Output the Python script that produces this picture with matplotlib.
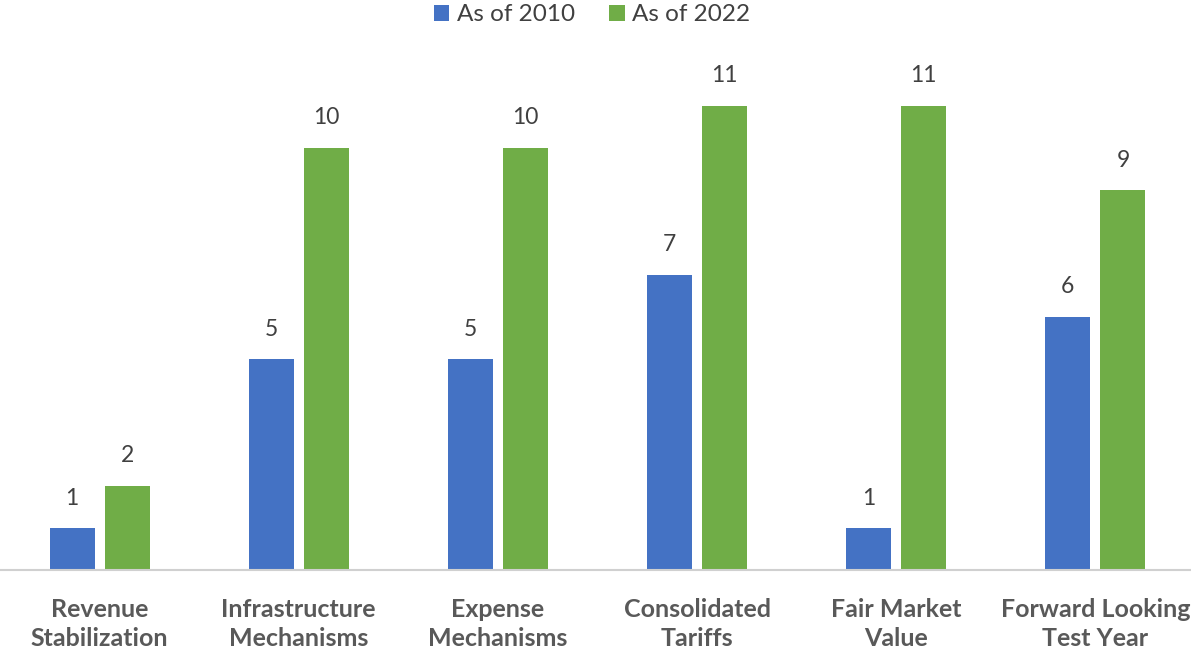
import matplotlib.pyplot as plt
import numpy as np

plt.rcParams['font.family'] = ['Lato', 'DejaVu Sans']

categories = ['Revenue\nStabilization', 'Infrastructure\nMechanisms', 'Expense\nMechanisms',
              'Consolidated\nTariffs', 'Fair Market\nValue', 'Forward Looking\nTest Year']
as_of_2010 = [1, 5, 5, 7, 1, 6]
as_of_2022 = [2, 10, 10, 11, 11, 9]

blue = '#4472C4'
green = '#70AD47'


def draw():
    fig = plt.figure(figsize=(11.91, 6.51), dpi=100)
    ax = fig.add_axes([0, 0.124, 1, 0.876])
    x = np.arange(len(categories))
    w = 0.226
    off = 0.138
    b1 = ax.bar(x - off, as_of_2010, w, color=blue, label='As of 2010')
    b2 = ax.bar(x + off, as_of_2022, w, color=green, label='As of 2022')
    for bars in (b1, b2):
        ax.bar_label(bars, padding=14, fontsize=16.5, color='#404040')

    ax.set_xlim(-0.5, 5.48)
    ax.set_ylim(0, 13.5)
    ax.set_xticks(x)
    ax.set_xticklabels(categories, fontsize=18, fontweight='bold', color='#595959',
                       linespacing=1.3)
    ax.tick_params(axis='x', length=0, pad=20)
    ax.set_yticks([])
    for s in ['top', 'right', 'left']:
        ax.spines[s].set_visible(False)
    ax.spines['bottom'].set_color('#d0d0d0')
    ax.spines['bottom'].set_linewidth(1.5)

    fig.legend(loc='upper center', bbox_to_anchor=(0.497, 1.027), ncol=2, frameon=False,
               fontsize=17.5, handlelength=0.65, handleheight=0.65, handletextpad=0.3,
               columnspacing=1.4, labelcolor='#404040')


draw()
plt.savefig('out.png', dpi=100)
plt.close()
